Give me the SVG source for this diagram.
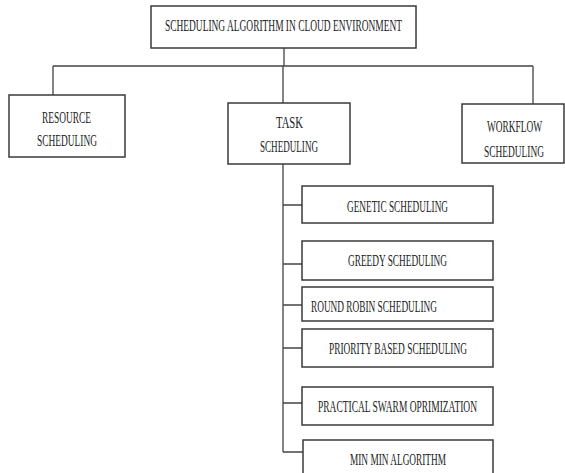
<svg xmlns="http://www.w3.org/2000/svg" width="565" height="473" viewBox="0 0 565 473">
<style>
.box{fill:#fff;stroke:#3a3a3a;stroke-width:1.5}
.t{font-family:"Liberation Serif","Times New Roman",serif;font-size:16px;fill:#222}
.c{fill:none;stroke:#444;stroke-width:1.3}
</style>
<rect width="565" height="473" fill="#fff"/>
<g id="connectors">
<path class="c" d="M284 48V66M53 66H533M53 66V95M283 66V103M533 66V104"/>
<path class="c" d="M283 164V452M283 205H302M283 264H302M283 305H302M283 348H302M283 403H302M283 452H303"/>
</g>
<g id="root">
<rect class="box" x="151" y="6" width="265" height="42"/>
<text class="t" x="165" y="31" textLength="237" lengthAdjust="spacingAndGlyphs">SCHEDULING ALGORITHM IN CLOUD ENVIRONMENT</text>
</g>
<g id="resource">
<rect class="box" x="9" y="95" width="116" height="62"/>
<text class="t" x="42" y="123" textLength="49" lengthAdjust="spacingAndGlyphs">RESOURCE</text>
<text class="t" x="37" y="146" textLength="60" lengthAdjust="spacingAndGlyphs">SCHEDULING</text>
</g>
<g id="task">
<rect class="box" x="228" y="103" width="122" height="61"/>
<text class="t" x="276" y="128" textLength="27" lengthAdjust="spacingAndGlyphs">TASK</text>
<text class="t" x="260" y="152" textLength="58" lengthAdjust="spacingAndGlyphs">SCHEDULING</text>
</g>
<g id="workflow">
<rect class="box" x="462" y="104" width="102" height="59"/>
<text class="t" x="487" y="132" textLength="55" lengthAdjust="spacingAndGlyphs">WORKFLOW</text>
<text class="t" x="484" y="157" textLength="60" lengthAdjust="spacingAndGlyphs">SCHEDULING</text>
</g>
<g id="genetic">
<rect class="box" x="302" y="186" width="191" height="37"/>
<text class="t" x="347" y="212" textLength="101" lengthAdjust="spacingAndGlyphs">GENETIC SCHEDULING</text>
</g>
<g id="greedy">
<rect class="box" x="302" y="241" width="191" height="39"/>
<text class="t" x="348" y="266" textLength="99" lengthAdjust="spacingAndGlyphs">GREEDY SCHEDULING</text>
</g>
<g id="roundrobin">
<rect class="box" x="302" y="287" width="191" height="34"/>
<text class="t" x="311" y="312" textLength="126" lengthAdjust="spacingAndGlyphs">ROUND ROBIN SCHEDULING</text>
</g>
<g id="priority">
<rect class="box" x="302" y="329" width="191" height="38"/>
<text class="t" x="329" y="354" textLength="138" lengthAdjust="spacingAndGlyphs">PRIORITY BASED SCHEDULING</text>
</g>
<g id="pso">
<rect class="box" x="302" y="387" width="191" height="38"/>
<text class="t" x="318" y="412" textLength="159" lengthAdjust="spacingAndGlyphs">PRACTICAL SWARM OPRIMIZATION</text>
</g>
<g id="minmin">
<rect class="box" x="303" y="440" width="190" height="45"/>
<text class="t" x="350" y="465" textLength="96" lengthAdjust="spacingAndGlyphs">MIN MIN ALGORITHM</text>
</g>
</svg>
